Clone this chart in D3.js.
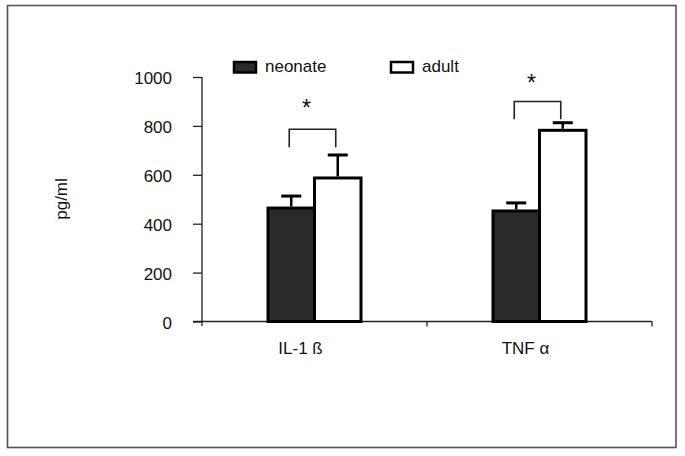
<!DOCTYPE html>
<html>
<head>
<meta charset="utf-8">
<script src="https://cdn.jsdelivr.net/npm/d3@7/dist/d3.min.js"></script>
<style>
  html, body { margin: 0; padding: 0; background: #fff; }
  svg { display: block; }
  text { font-family: Arial, "Liberation Sans", sans-serif; fill: #111; }
</style>
</head>
<body>
<svg id="chart" width="685" height="456"></svg>
<script>
// ---- data ----
const categories = ["IL-1 ß", "TNF α"];
const seriesNames = ["neonate", "adult"];
const neonateMean = [464, 452];
const neonateErr  = [513, 485];   // top of error bar
const adultMean   = [587, 782];
const adultErr    = [681, 813];
const bracketTop  = [786, 900];   // significance bracket level (pg/ml)
const bracketFoot = [713, 827];   // lower end of bracket legs
const starLevel   = [896, 998];   // asterisk position (pg/ml)
const yTicks      = [0, 200, 400, 600, 800, 1000];
const yLabel      = "pg/ml";

const means = [neonateMean, adultMean];
const errs  = [neonateErr, adultErr];
const fills = ["#2a2a2a", "#ffffff"];

const svg = d3.select("#chart");

// outer frame
svg.append("rect")
  .attr("x", 7.5).attr("y", 5.5).attr("width", 668.5).attr("height", 442)
  .attr("fill", "none").attr("stroke", "#555").attr("stroke-width", 1.6);

// scales
const y = d3.scaleLinear().domain([0, 1000]).range([321.5, 77]);
const x0 = d3.scaleBand().domain(categories).range([202, 652]).padding(0);
const bw = x0.bandwidth();
const x1 = d3.scaleBand().domain(seriesNames).range([bw / 2 - 46.5, bw / 2 + 46.5]).padding(0);

// y axis
const yAxis = svg.append("g")
  .attr("transform", "translate(202,0)")
  .call(d3.axisLeft(y).tickValues(yTicks).tickFormat(d3.format("d"))
    .tickSize(9).tickPadding(21).tickSizeOuter(0));
yAxis.select(".domain").attr("stroke", "#222").attr("stroke-width", 1.3)
  .attr("d", `M0,${y(1000)}V${y(0) + 4.5}`);
yAxis.selectAll(".tick line").attr("stroke", "#222").attr("stroke-width", 1.3);
yAxis.selectAll(".tick text").attr("font-size", 17).attr("fill", "#111")
  .attr("font-family", "Arial, 'Liberation Sans', sans-serif").attr("dy", "0.4em");

// x axis (ticks at band boundaries)
const bounds = categories.map(c => x0(c)).concat([x0.range()[1]]);
const xAxis = svg.append("g").attr("transform", `translate(0,${y(0)})`);
xAxis.append("line").attr("x1", 193).attr("x2", 652).attr("y1", 0).attr("y2", 0)
  .attr("stroke", "#222").attr("stroke-width", 1.3);
xAxis.selectAll("line.xt").data(bounds.slice(1)).join("line")
  .attr("class", "xt").attr("x1", d => d).attr("x2", d => d)
  .attr("y1", 0).attr("y2", 5).attr("stroke", "#222").attr("stroke-width", 1.3);

// category labels
svg.selectAll("text.cat").data(categories).join("text")
  .attr("class", "cat")
  .attr("x", d => x0(d) + bw / 2 - 14)
  .attr("y", 354)
  .attr("text-anchor", "middle")
  .attr("font-size", 17)
  .text(d => d);

// bars
seriesNames.forEach((s, si) => {
  const g = svg.append("g");
  g.selectAll("rect").data(categories).join("rect")
    .attr("x", d => x0(d) + x1(s))
    .attr("y", (d, i) => y(means[si][i]))
    .attr("width", x1.bandwidth())
    .attr("height", (d, i) => y(0) - y(means[si][i]))
    .attr("fill", fills[si])
    .attr("stroke", "#000")
    .attr("stroke-width", 3);
  // error bars
  g.selectAll("line.eb").data(categories).join("line")
    .attr("class", "eb")
    .attr("x1", d => x0(d) + x1(s) + x1.bandwidth() / 2)
    .attr("x2", d => x0(d) + x1(s) + x1.bandwidth() / 2)
    .attr("y1", (d, i) => y(means[si][i]) - 1.5)
    .attr("y2", (d, i) => y(errs[si][i]))
    .attr("stroke", "#000").attr("stroke-width", 2.5);
  g.selectAll("line.cap").data(categories).join("line")
    .attr("class", "cap")
    .attr("x1", d => x0(d) + x1(s) + x1.bandwidth() / 2 - 10)
    .attr("x2", d => x0(d) + x1(s) + x1.bandwidth() / 2 + 10)
    .attr("y1", (d, i) => y(errs[si][i]))
    .attr("y2", (d, i) => y(errs[si][i]))
    .attr("stroke", "#000").attr("stroke-width", 3);
});

// significance brackets
const bx = (c, s) => x0(c) + x1(s) + x1.bandwidth() / 2;
svg.selectAll("path.br").data(categories).join("path")
  .attr("class", "br")
  .attr("d", (d, i) => {
    const l = bx(d, "neonate") - 2, r = bx(d, "adult") - 2;
    return `M${l},${y(bracketFoot[i])}V${y(bracketTop[i])}H${r}V${y(bracketFoot[i])}`;
  })
  .attr("fill", "none").attr("stroke", "#222").attr("stroke-width", 1.6);
svg.selectAll("text.star").data(categories).join("text")
  .attr("class", "star")
  .attr("x", d => x0(d) + bw / 2 - 8)
  .attr("y", (d, i) => y(starLevel[i]))
  .attr("dy", "0.6em")
  .attr("text-anchor", "middle")
  .attr("font-size", 23)
  .text("*");

// legend
const legend = svg.append("g");
const legX = [234, 391];
seriesNames.forEach((s, si) => {
  legend.append("rect")
    .attr("x", legX[si]).attr("y", 62).attr("width", 22).attr("height", 10.5)
    .attr("fill", fills[si]).attr("stroke", "#000").attr("stroke-width", 2.5);
  legend.append("text")
    .attr("x", legX[si] + 31).attr("y", 72)
    .attr("font-size", 17)
    .text(s);
});

// y label
svg.append("text")
  .attr("transform", "translate(67,199) rotate(-90)")
  .attr("text-anchor", "middle")
  .attr("font-size", 17)
  .text(yLabel);
</script>
</body>
</html>
